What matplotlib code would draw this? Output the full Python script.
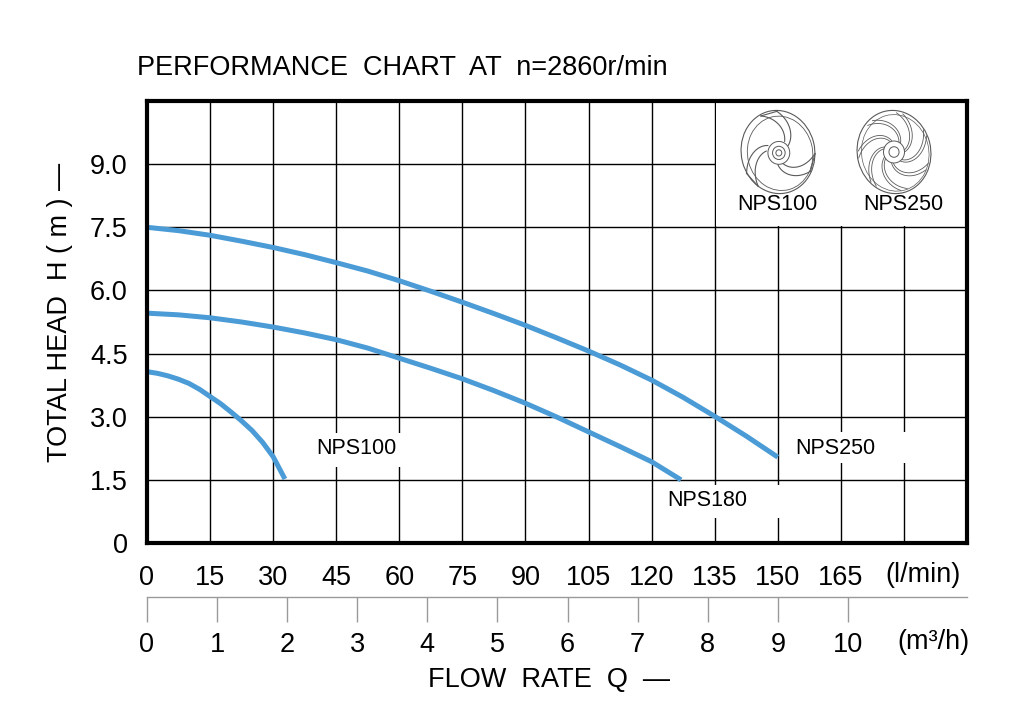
import numpy as np
import matplotlib
matplotlib.use("Agg")
import matplotlib.pyplot as plt
from matplotlib.patches import Rectangle, Ellipse, Circle

plt.rcParams['font.family'] = ['Liberation Sans', 'DejaVu Sans']

# ---------------- data ----------------
q_nps250 = [0, 7.5, 15, 22.5, 30, 37.5, 45, 52.5, 60, 67.5, 75, 82.5, 90, 97.5,
            105, 112.5, 120, 127.5, 135, 142.5, 150]
h_nps250 = [7.50, 7.42, 7.31, 7.17, 7.02, 6.85, 6.66, 6.46, 6.23, 5.98, 5.72, 5.45, 5.17, 4.87,
            4.56, 4.23, 3.87, 3.46, 3.01, 2.54, 2.04]

q_nps180 = [0, 7.5, 15, 22.5, 30, 37.5, 45, 52.5, 60, 67.5, 75, 82.5, 90, 97.5,
            105, 112.5, 120, 127]
h_nps180 = [5.46, 5.42, 5.35, 5.25, 5.13, 4.99, 4.83, 4.63, 4.39, 4.15, 3.90, 3.62, 3.32, 2.99,
            2.64, 2.29, 1.93, 1.50]

q_nps100 = [0, 2.5, 5, 7.5, 10, 12.5, 15, 17.5, 20, 22.5, 25, 27.5, 30, 32.8]
h_nps100 = [4.07, 4.03, 3.97, 3.89, 3.79, 3.65, 3.48, 3.31, 3.11, 2.90, 2.67, 2.39, 2.05, 1.52]

x_ticks_lmin = [0, 15, 30, 45, 60, 75, 90, 105, 120, 135, 150, 165, 180, 195]
x_labels_lmin = ['0', '15', '30', '45', '60', '75', '90', '105', '120', '135', '150', '165', '', '']
y_ticks = [0, 1.5, 3.0, 4.5, 6.0, 7.5, 9.0, 10.5]
y_labels = ['0', '1.5', '3.0', '4.5', '6.0', '7.5', '9.0', '']
m3h_ticks = [0, 1, 2, 3, 4, 5, 6, 7, 8, 9, 10]
m3h_labels = ['0', '1', '2', '3', '4', '5', '6', '7', '8', '9', '10']

BLUE = '#4A9BD6'
W, H = 1016, 726


def fx(px):
    return px / W


def fy(py):
    return 1 - py / H


fig = plt.figure(figsize=(W / 100, H / 100), dpi=100)
L, R, T, B = 147, 967, 101, 543
ax = fig.add_axes([fx(L), fy(B), (R - L) / W, (B - T) / H])
ax.set_xlim(0, 195)
ax.set_ylim(0, 10.5)

ax.set_xticks(x_ticks_lmin)
ax.set_xticklabels(x_labels_lmin)
ax.set_yticks(y_ticks)
ax.set_yticklabels(y_labels)
ax.tick_params(axis='x', length=0, pad=16, labelsize=19.5)
ax.tick_params(axis='y', length=0, pad=14, labelsize=19.5)
ax.set_axisbelow(True)
ax.grid(True, color='black', linewidth=1.0)
for sp in ax.spines.values():
    sp.set_linewidth(3.0)
    sp.set_color('black')

# white areas masking grid
ax.add_patch(Rectangle((135.35, 7.53), 60, 3.0, facecolor='white', edgecolor='none', zorder=1))
ax.add_patch(Rectangle((37, 1.81), 24, 0.81, facecolor='white', edgecolor='none', zorder=1))
ax.add_patch(Rectangle((151, 1.90), 31, 0.74, facecolor='white', edgecolor='none', zorder=1))
ax.add_patch(Rectangle((122, 0.60), 29, 0.78, facecolor='white', edgecolor='none', zorder=1))

for q, h in [(q_nps250, h_nps250), (q_nps180, h_nps180), (q_nps100, h_nps100)]:
    ax.plot(q, h, color=BLUE, linewidth=3.6, solid_capstyle='butt',
            solid_joinstyle='round', zorder=2)

ax.text(49.8, 2.24, 'NPS100', ha='center', va='center', fontsize=15.5, zorder=3)
ax.text(163.8, 2.24, 'NPS250', ha='center', va='center', fontsize=15.5, zorder=3)
ax.text(133.3, 1.00, 'NPS180', ha='center', va='center', fontsize=15.5, zorder=3)
ax.text(150.0, 8.05, 'NPS100', ha='center', va='center', fontsize=15.5, zorder=3)
ax.text(179.8, 8.05, 'NPS250', ha='center', va='center', fontsize=15.5, zorder=3)

# secondary m3/h axis
ax2 = fig.add_axes([fx(L), fy(597), (R - L) / W, 0.0005])
ax2.set_xlim(0, 195 * 60 / 1000)
ax2.patch.set_visible(False)
for k in ['top', 'left', 'right']:
    ax2.spines[k].set_visible(False)
ax2.spines['bottom'].set_color('#9a9a9a')
ax2.spines['bottom'].set_linewidth(1.0)
ax2.set_yticks([])
ax2.set_xticks(m3h_ticks)
ax2.set_xticklabels(m3h_labels)
ax2.tick_params(axis='x', direction='out', length=18, width=1.0, color='#9a9a9a',
                labelcolor='black', labelsize=19.5, pad=7)

# titles / axis labels
fig.text(fx(137), fy(68), 'PERFORMANCE  CHART  AT  n=2860r/min', ha='left', va='center', fontsize=19.5)
fig.text(fx(60), fy(312), 'TOTAL HEAD  H ( m ) —', rotation=90, ha='center', va='center', fontsize=19.5)
fig.text(fx(549), fy(680), 'FLOW  RATE  Q  —', ha='center', va='center', fontsize=19.5)
fig.text(fx(923), fy(575), '(l/min)', ha='center', va='center', fontsize=19.5)
fig.text(fx(933), fy(642), '(m³/h)', ha='center', va='center', fontsize=19.5)

# impeller sketches (decorative)
GR = '#5a5a5a'


def impeller_semi(axi):
    axi.add_patch(Ellipse((0, 0), 1.75, 1.9, angle=15, fill=False, ec=GR, lw=0.8))
    axi.add_patch(Ellipse((0.05, -0.03), 1.55, 1.7, angle=15, fill=False, ec=GR, lw=0.6))
    for k in range(3):
        t0 = np.deg2rad(k * 120 + 30)
        r = np.linspace(0.28, 0.88, 30)
        for off in (0.0, 0.45):
            th = t0 + off + (r - 0.28) * 1.8
            axi.plot(r * np.cos(th), r * np.sin(th) * 1.05, color=GR, lw=0.8)
        rr = 0.88
        th1 = t0 + 0.6 * 1.8
        axi.plot([rr * np.cos(th1), rr * np.cos(th1 + 0.45)],
                 [rr * np.sin(th1) * 1.05, rr * np.sin(th1 + 0.45) * 1.05], color=GR, lw=0.8)
    for rad in (0.26, 0.15, 0.07):
        axi.add_patch(Circle((0.02, -0.02), rad, fill=False, ec=GR, lw=0.7))


def impeller_closed(axi):
    axi.add_patch(Ellipse((0, 0), 1.75, 1.9, angle=15, fill=False, ec=GR, lw=0.8))
    axi.add_patch(Ellipse((0.03, -0.02), 1.6, 1.75, angle=15, fill=False, ec=GR, lw=0.5))
    for k in range(7):
        t0 = np.deg2rad(k * 360 / 7)
        r = np.linspace(0.25, 0.85, 30)
        for off in (0.0, 0.18):
            th = t0 + off + (r - 0.25) * 2.2
            axi.plot(r * np.cos(th), r * np.sin(th) * 1.05, color=GR, lw=0.6)
    for rad in (0.25, 0.12):
        axi.add_patch(Circle((0, 0), rad, fill=False, ec=GR, lw=0.7))


for cx, func in [(778, impeller_semi), (894, impeller_closed)]:
    axi = fig.add_axes([fx(cx - 42), fy(196), 84 / W, 88 / H])
    axi.set_xlim(-1, 1)
    axi.set_ylim(-1, 1)
    axi.axis('off')
    func(axi)

fig.savefig('out.png', dpi=100, facecolor='white')
